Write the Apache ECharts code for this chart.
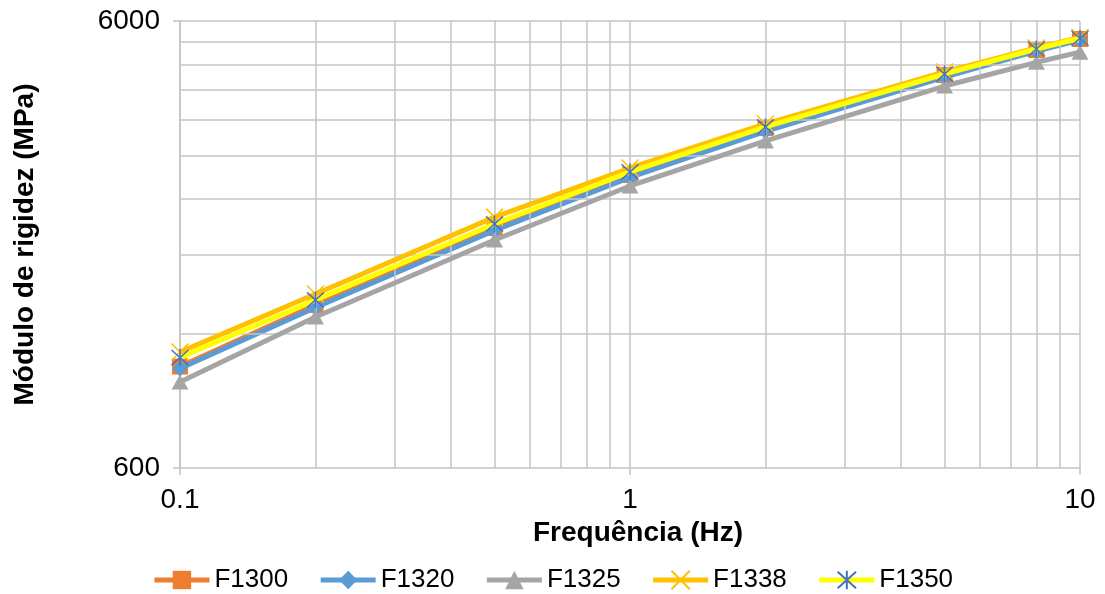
<!DOCTYPE html>
<html>
<head>
<meta charset="utf-8">
<script src="https://cdn.jsdelivr.net/npm/echarts@6/dist/echarts.min.js"></script>
<style>
html,body{margin:0;padding:0;background:#fff;}
#c{width:1105px;height:594px;}
</style>
</head>
<body>
<div id="c"></div>
<script>
const freqs = [0.1, 0.2, 0.5, 1, 2, 5, 8, 10];
const seriesNames = ['F1300', 'F1320', 'F1325', 'F1338', 'F1350'];
const F1300 = [1012, 1389, 2066, 2714, 3458, 4542, 5168, 5469];
const F1320 = [1002, 1372, 2040, 2680, 3400, 4494, 5141, 5441];
const F1325 = [935, 1306, 1942, 2565, 3234, 4292, 4850, 5110];
const F1338 = [1091, 1470, 2185, 2814, 3531, 4614, 5220, 5510];
const F1350 = [1060, 1426, 2109, 2757, 3477, 4566, 5194, 5490];
const yTickLabels = [600, 6000];
const xTickLabels = [0.1, 1, 10];
const yGridValues = [1200, 1800, 2400, 3000, 3600, 4200, 4800, 5400, 6000];
const xGridValues = [0.2, 0.3, 0.4, 0.5, 0.6, 0.7, 0.8, 0.9, 2, 3, 4, 5, 6, 7, 8, 9];

const FONT = 'Liberation Sans, Arial, sans-serif';
const GRIDC = '#c4c4c4';

function pairs(vals) { return freqs.map((f, i) => [f, vals[i]]); }

const crossPath = 'path://M0,0L16,16M16,0L0,16';
const starPath = 'path://M0,0L16,16M16,0L0,16M8,-1L8,17';

const chart = echarts.init(document.getElementById('c'), null, {renderer: 'canvas'});
const option = {
  animation: false,
  backgroundColor: '#fff',
  grid: {left: 180, right: 25, top: 21, bottom: 126, containLabel: false, outerBoundsMode: 'none'},
  legend: {
    data: seriesNames,
    top: 562,
    left: 'center',
    itemWidth: 55,
    itemHeight: 23,
    itemGap: 30,
    lineStyle: {width: 5},
    textStyle: {fontFamily: FONT, fontSize: 26, color: '#000'}
  },
  xAxis: {
    type: 'log', logBase: 10, min: 0.1, max: 10,
    name: 'Frequência (Hz)', nameLocation: 'middle', nameGap: 43,
    nameTextStyle: {fontFamily: FONT, fontSize: 28, fontWeight: 'bold', color: '#000', padding: [0, 0, 0, 16]},
    axisLine: {lineStyle: {color: GRIDC, width: 1.5}},
    axisTick: {show: true, length: 7, lineStyle: {color: GRIDC, width: 1.5}},
    axisLabel: {fontFamily: FONT, fontSize: 28, color: '#000', margin: 18,
      formatter: v => { const r = xTickLabels.find(t => Math.abs(t - v) < 1e-9); return r === undefined ? '' : String(r); }},
    splitLine: {show: true, lineStyle: {color: GRIDC, width: 1.5}}
  },
  yAxis: {
    type: 'log', logBase: 10, min: 600, max: 6000, interval: 1,
    name: 'Módulo de rigidez (MPa)', nameLocation: 'middle', nameGap: 141,
    nameTextStyle: {fontFamily: FONT, fontSize: 28, fontWeight: 'bold', color: '#000'},
    axisLine: {show: true, lineStyle: {color: GRIDC, width: 1.5}},
    axisTick: {show: true, length: 7, lineStyle: {color: GRIDC, width: 1.5}},
    axisLabel: {fontFamily: FONT, fontSize: 28, color: '#000', margin: 20,
      formatter: v => { const r = yTickLabels.find(t => Math.abs(t - v) < 1e-6 * t); return r === undefined ? '' : String(r); }},
    splitLine: {show: false}
  },
  series: [
    {
      name: 'gridlines', type: 'line', data: [], z: 0, silent: true,
      markLine: {
        silent: true, symbol: 'none', label: {show: false},
        lineStyle: {color: GRIDC, width: 1.5, type: 'solid'},
        data: yGridValues.map(v => ({yAxis: v})).concat(xGridValues.map(v => ({xAxis: v})))
      }
    },
    {
      name: 'F1300', type: 'line', data: pairs(F1300), z: 3,
      symbol: 'rect', symbolSize: 16,
      lineStyle: {color: '#ED7D31', width: 5},
      itemStyle: {color: '#ED7D31'}
    },
    {
      name: 'F1320', type: 'line', data: pairs(F1320), z: 4,
      symbol: 'diamond', symbolSize: [15, 17],
      lineStyle: {color: '#5B9BD5', width: 5},
      itemStyle: {color: '#5B9BD5'}
    },
    {
      name: 'F1325', type: 'line', data: pairs(F1325), z: 5,
      symbol: 'triangle', symbolSize: [17, 15],
      lineStyle: {color: '#A5A5A5', width: 5},
      itemStyle: {color: '#A5A5A5'}
    },
    {
      name: 'F1338', type: 'line', data: pairs(F1338), z: 6,
      symbol: crossPath, symbolSize: 17,
      lineStyle: {color: '#FFC000', width: 5},
      itemStyle: {color: 'transparent', borderColor: '#FFC000', borderWidth: 1.5}
    },
    {
      name: 'F1350', type: 'line', data: pairs(F1350), z: 7,
      symbol: starPath, symbolSize: 17,
      lineStyle: {color: '#FFFF00', width: 5},
      itemStyle: {color: 'transparent', borderColor: '#4472C4', borderWidth: 1.5}
    }
  ]
};
chart.setOption(option);
</script>
</body>
</html>
